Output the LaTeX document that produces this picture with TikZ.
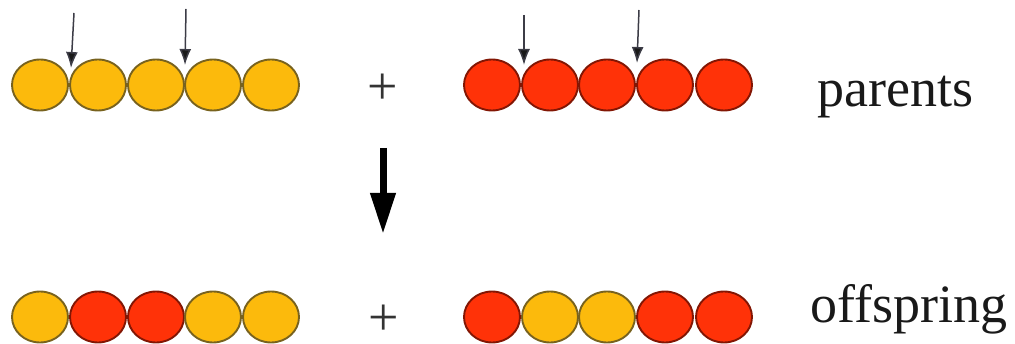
\documentclass[tikz,border=0pt]{standalone}
\usepackage{fontspec}
\setmainfont{Liberation Serif}
\usetikzlibrary{shapes.geometric,arrows.meta}
\definecolor{geneyellow}{RGB}{252,186,12}
\definecolor{yellowrim}{RGB}{120,98,30}
\definecolor{genered}{RGB}{255,50,8}
\definecolor{redrim}{RGB}{130,22,4}
\definecolor{cutgray}{RGB}{60,60,70}
\begin{document}
\begin{tikzpicture}[x=1pt,y=-1pt,
  gene/.style={ellipse,minimum width=56pt,minimum height=51pt,inner sep=0pt,line width=1.9pt},
  yg/.style={gene,fill=geneyellow,draw=yellowrim},
  rg/.style={gene,fill=genered,draw=redrim},
  cut/.style={draw=cutgray,line width=1.5pt,-{Latex[length=16pt,width=12pt,fill=black!90]}},
  bigarrow/.style={line width=7pt,-{Triangle[length=41pt,width=24pt]}},
  lbl/.style={font=\fontsize{54}{60}\selectfont,anchor=base west,inner sep=0pt,text=black!90},
  plus/.style={font=\fontsize{54}{60}\selectfont,inner sep=0pt,text=black!80}]
\useasboundingbox (0,0) rectangle (1015,344);

% parent chromosomes
\foreach \i/\x in {1/40,2/98,3/156,4/213,5/271}
  \node[yg] (a\i) at (\x,85) {};
\foreach \i/\x in {1/492,2/550,3/607,4/665,5/724}
  \node[rg] (b\i) at (\x,85) {};

% offspring chromosomes
\foreach \i/\x/\s in {1/40/yg,2/98/rg,3/156/rg,4/213/yg,5/271/yg}
  \node[\s] (c\i) at (\x,317) {};
\foreach \i/\x/\s in {1/492/rg,2/550/yg,3/607/yg,4/665/rg,5/724/rg}
  \node[\s] (d\i) at (\x,317) {};

% crossover points
\coordinate (ca1) at (74,13);  \coordinate (ta1) at (71,68);
\coordinate (ca2) at (186,9);  \coordinate (ta2) at (185,65);
\coordinate (cb1) at (524,15); \coordinate (tb1) at (524,65);
\coordinate (cb2) at (639,10); \coordinate (tb2) at (637,63);
\draw[cut] (ca1) -- (ta1);
\draw[cut] (ca2) -- (ta2);
\draw[cut] (cb1) -- (tb1);
\draw[cut] (cb2) -- (tb2);

% plus signs
\node[plus] (p1) at (383,89) {+};
\node[plus] (p2) at (384,320) {+};

% crossover step
\coordinate (s0) at (383,148);
\coordinate (s1) at (383,234);
\draw[bigarrow] (s0) -- (s1);

% labels
\node[lbl] (lp) at (817,107) {parents};
\node[lbl] (lo) at (810,323) {offspring};
\end{tikzpicture}
\end{document}
